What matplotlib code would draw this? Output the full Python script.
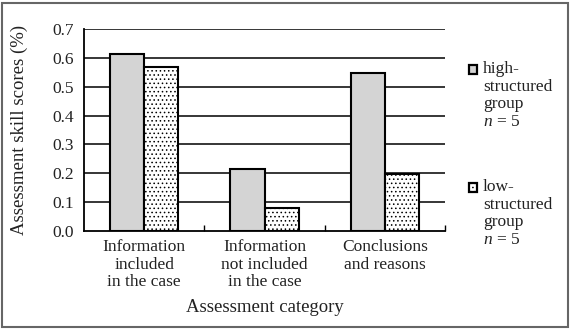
import numpy as np
import matplotlib
matplotlib.use("Agg")
import matplotlib.pyplot as plt

plt.rcParams['font.family'] = ['Liberation Serif', 'DejaVu Serif']
plt.rcParams['mathtext.fontset'] = 'custom'
plt.rcParams['mathtext.rm'] = 'Liberation Serif'
plt.rcParams['mathtext.it'] = 'Liberation Serif:italic'
plt.rcParams['hatch.color'] = '#777777'
plt.rcParams['hatch.linewidth'] = 0.6

categories = ["Information\nincluded\nin the case",
              "Information\nnot included\nin the case",
              "Conclusions\nand reasons"]
high_scores = [0.613, 0.215, 0.548]
low_scores = [0.569, 0.079, 0.196]
series_labels = ["high-\nstructured\ngroup\n$n$ = 5", "low-\nstructured\ngroup\n$n$ = 5"]
yticks = [0.0, 0.1, 0.2, 0.3, 0.4, 0.5, 0.6, 0.7]

txt = '#222222'
fig = plt.figure(figsize=(5.71, 3.30), dpi=100)
ax = fig.add_axes([84/571, 1 - 231/330, 361/571, 202/330])

x = np.arange(len(categories))
w = 0.283
for t in yticks[1:]:
    ax.axhline(t, color='black', lw=1.1, zorder=1)
b1 = ax.bar(x - w / 2, high_scores, w, color='#d4d4d4', edgecolor='black', lw=1.5, zorder=3)
b2 = ax.bar(x + w / 2, low_scores, w, color='white', edgecolor='black', lw=1.5, hatch='....',
            zorder=3)

ax.set_xlim(-0.5, 2.5)
ax.set_ylim(0, 0.7)
ax.set_yticks(yticks)
ax.set_yticklabels(["%.1f" % t for t in yticks], fontsize=12.5, color=txt)
ax.set_xticks(x)
ax.set_xticklabels(categories, fontsize=12.5, linespacing=1.12, color=txt)
ax.tick_params(axis='x', length=0, pad=6)
ax.tick_params(axis='y', length=0, pad=7)
ax.set_xticks([0.5, 1.5, 2.5], minor=True)
ax.tick_params(axis='x', which='minor', length=4, width=1, direction='in')
for s in ['top', 'right']:
    ax.spines[s].set_visible(False)
ax.spines['left'].set_linewidth(1.3)
ax.spines['bottom'].set_linewidth(1.3)
ax.set_ylabel("Assessment skill scores (%)", fontsize=13.5, color=txt)
ax.yaxis.set_label_coords((28 - 84) / 361, 0.5)
ax.set_xlabel("Assessment category", fontsize=13.5, color=txt)
ax.xaxis.set_label_coords(0.5, -(308 - 231) / 202)
ax.xaxis.label.set_va('center')

# legend: square marker next to first line of each multi-line label
legend_tops = [70, 188]
for bars, label, ytop in zip([b1, b2], series_labels, legend_tops):
    yf = 1 - ytop / 330
    sq = plt.Rectangle((469/571, yf - 4/330), 8/571, 9/330, transform=fig.transFigure,
                       facecolor=bars.patches[0].get_facecolor(), edgecolor='black', lw=1.6,
                       hatch=bars.patches[0].get_hatch())
    fig.patches.append(sq)
    fig.text(483/571, yf + 9/330, label, fontsize=12.5, va='top', ha='left',
             linespacing=1.13, color=txt)

# outer frame
fig.patches.append(plt.Rectangle((0.004, 0.01), 0.99, 0.982, transform=fig.transFigure,
                                 fill=False, edgecolor='#666666', lw=1.5))
fig.savefig("out.png", dpi=100)
